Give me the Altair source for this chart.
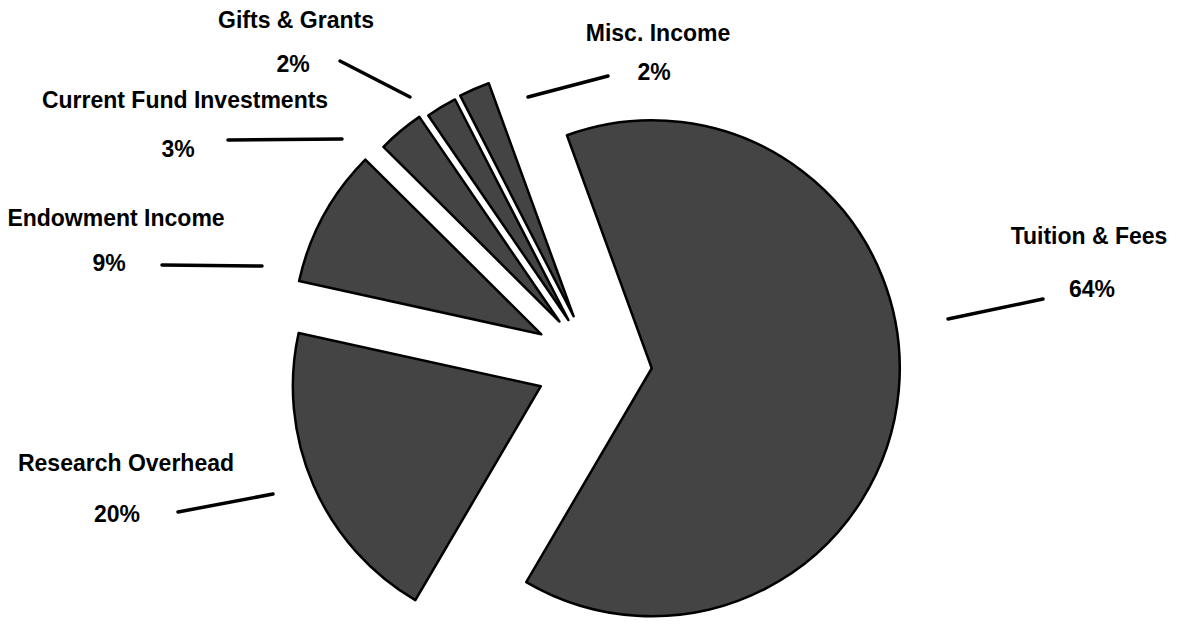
import math
import altair as alt
import pandas as pd

# ---------------- data ----------------
categories = ["Tuition & Fees", "Research Overhead", "Endowment Income",
              "Current Fund Investments", "Gifts & Grants", "Misc. Income"]
shares = [64, 20, 9, 3, 2, 2]
pct_labels = ["64%", "20%", "9%", "3%", "2%", "2%"]

# ---------------- style / layout ----------------
explode = [58, 58, 60, 54, 50, 51]          # slice pull-out distance (px)
START_DEG = -20                              # where the first slice begins
CX, CY, R = 586, 355, 248                    # pie centre and radius (px)
FILL = "#444444"
FONT = "Liberation Sans"

# annotation layout (plot pixels): name label, percent label, leader line
name_x = [1081, 118, 108, 177, 288, 650]
name_y = [229, 456, 211, 93, 13, 26]
pct_x = [1084, 109, 101, 170, 285, 646]
pct_y = [282, 507, 256, 142, 57, 65]
lead_x1 = [940, 265, 254, 334, 402, 520]
lead_y1 = [311, 486, 258, 131, 89, 89]
lead_x2 = [1035, 170, 154, 220, 332, 600]
lead_y2 = [291, 504, 257, 132, 53, 68]

total = sum(shares)
a0 = math.radians(START_DEG)

pie_df = pd.DataFrame({
    "category": categories,
    "share": shares,
    "order": list(range(len(categories))),
    "explode": explode,
})

pie = (
    alt.Chart(pie_df)
    .transform_window(cum="sum(share)", sort=[alt.SortField("order")], frame=[None, 0])
    .transform_calculate(
        start="datum.cum - datum.share",
        mid=f"{a0} + 2 * PI * (datum.cum - datum.share / 2) / {total}",
    )
    .transform_calculate(
        cx=f"{CX} + datum.explode * sin(datum.mid)",
        cy=f"{CY} - datum.explode * cos(datum.mid)",
    )
    .mark_arc(radius=R, fill=FILL, stroke="black", strokeWidth=2.5, strokeJoin="round")
    .encode(
        theta=alt.Theta("start:Q", stack=False,
                        scale=alt.Scale(domain=[0, total], range=[a0, a0 + 2 * math.pi])),
        theta2="cum:Q",
        x=alt.X("cx:Q", scale=None),
        y=alt.Y("cy:Q", scale=None),
    )
)

ann_df = pd.DataFrame({
    "category": categories,
    "pct": pct_labels,
    "nx": name_x, "ny": name_y,
    "px": pct_x, "py": pct_y,
    "x1": lead_x1, "y1": lead_y1, "x2": lead_x2, "y2": lead_y2,
})

leaders = alt.Chart(ann_df).mark_rule(
    color="black", strokeWidth=3.5, strokeCap="round"
).encode(
    x=alt.X("x1:Q", scale=None), y=alt.Y("y1:Q", scale=None),
    x2="x2:Q", y2="y2:Q",
)

names = alt.Chart(ann_df).mark_text(
    font=FONT, fontSize=23, fontWeight="bold",
    align="center", baseline="middle", color="black",
).encode(
    x=alt.X("nx:Q", scale=None), y=alt.Y("ny:Q", scale=None), text="category:N",
)

pcts = alt.Chart(ann_df).mark_text(
    font=FONT, fontSize=23, fontWeight="bold",
    align="center", baseline="middle", color="black",
).encode(
    x=alt.X("px:Q", scale=None), y=alt.Y("py:Q", scale=None), text="pct:N",
)

chart = (
    alt.layer(pie, leaders, names, pcts)
    .properties(width=1174, height=611, padding=0, autosize="none", background="white")
    .configure_view(stroke=None)
)

chart.save("out.html", embed_options={"renderer": "svg", "actions": False})
